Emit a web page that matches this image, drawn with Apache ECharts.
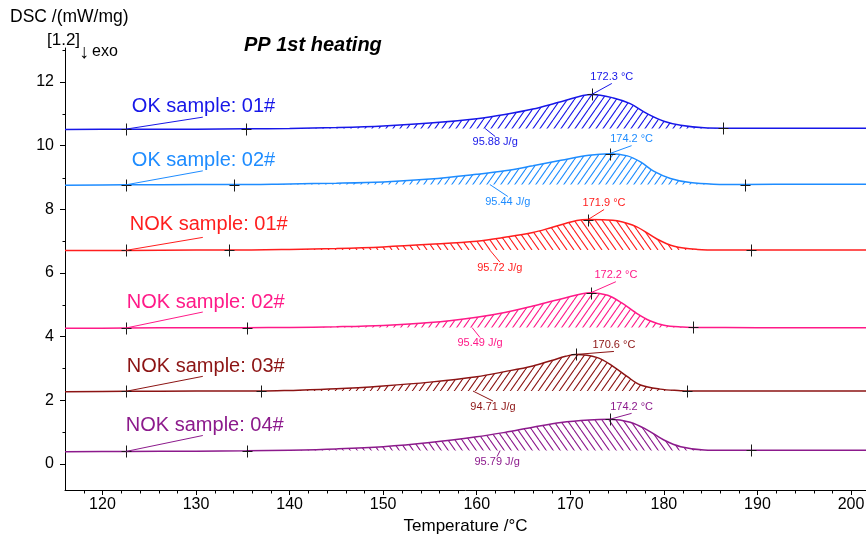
<!DOCTYPE html>
<html>
<head>
<meta charset="utf-8">
<script src="https://cdn.jsdelivr.net/npm/echarts@6/dist/echarts.min.js"></script>
<style>
  html, body { margin: 0; padding: 0; background: #ffffff; }
  #chart { width: 866px; height: 534px; }
</style>
</head>
<body>
<div id="chart"></div>
<script>
// DSC heat flow, PP first heating — [temperature °C, heat flow mW/mg] per run
const sampleNames = ['OK sample: 01#', 'OK sample: 02#', 'NOK sample: 01#', 'NOK sample: 02#', 'NOK sample: 03#', 'NOK sample: 04#'];

const ok01 = [[116,10.51],[122.5,10.52],[130,10.52],[135.3,10.53],[140,10.54],[145,10.57],[150,10.62],[155,10.71],[160,10.85],[163,10.98],[166,11.15],[169,11.38],[172.3,11.61],[174.6,11.50],[176.4,11.32],[178.2,11.01],[180,10.77],[181.8,10.64],[184.3,10.56],[186.3,10.55],[193,10.55],[201.6,10.55]];
const ok02 = [[116,8.76],[122.5,8.77],[130,8.78],[134.1,8.78],[140,8.80],[145,8.82],[150,8.86],[155,8.95],[160,9.10],[163,9.21],[166,9.37],[169,9.54],[172,9.70],[174.2,9.75],[176.1,9.68],[177.5,9.49],[178.9,9.20],[180.7,8.97],[182.8,8.84],[185.3,8.79],[188.7,8.78],[195,8.79],[201.6,8.79]];
const nok01 = [[116,6.71],[122.5,6.71],[130,6.72],[133.5,6.72],[140,6.74],[145,6.77],[150,6.82],[155,6.90],[160,7.00],[163,7.12],[166,7.27],[168,7.43],[169.3,7.54],[170.7,7.65],[171.9,7.68],[173.5,7.67],[175,7.64],[177.1,7.45],[179.3,7.06],[181.1,6.84],[183.6,6.74],[186,6.72],[189.3,6.72],[195,6.72],[201.6,6.72]];
const nok02 = [[116,4.26],[122.5,4.27],[130,4.28],[135.4,4.28],[140,4.29],[145,4.31],[150,4.35],[155,4.44],[160,4.61],[163,4.76],[166,4.96],[169,5.18],[172.2,5.38],[174,5.30],[175.5,5.06],[177,4.75],[178.5,4.50],[180,4.36],[182,4.30],[183.1,4.29],[190,4.28],[201.6,4.28]];
const nok03 = [[116,2.27],[122.5,2.28],[130,2.29],[136.9,2.29],[140,2.31],[145,2.36],[150,2.45],[155,2.57],[160,2.74],[163,2.90],[166,3.08],[168,3.25],[169.5,3.38],[170.6,3.44],[172.9,3.34],[174.6,3.06],[176.1,2.74],[177.5,2.48],[179.6,2.35],[181.8,2.30],[182.5,2.29],[190,2.29],[201.6,2.29]];
const nok04 = [[116,0.38],[122.5,0.39],[130,0.40],[135.4,0.41],[140,0.43],[145,0.47],[150,0.54],[155,0.67],[160,0.85],[163,0.99],[166,1.15],[169,1.30],[172,1.38],[174.2,1.40],[176.4,1.31],[178.2,1.07],[180,0.75],[181.8,0.54],[184.3,0.44],[186.5,0.43],[189.3,0.43],[195,0.43],[201.6,0.43]];

// evaluation points: start marker, peak integration limits, peak maxima, enthalpies
const startT = 122.5;
const onsetT = [135.3, 134.1, 133.5, 135.4, 136.9, 135.4];
const endT = [186.3, 188.7, 189.3, 183.1, 182.5, 189.3];
const peakT = [172.3, 174.2, 171.9, 172.2, 170.6, 174.2];
const enthalpy = [95.88, 95.44, 95.72, 95.49, 94.71, 95.79];
const enthalpyLabelT = [160.9, 161.4, 161.4, 159.5, 159.6, 162.5];

// axis ticks
const xMajorTicks = [120, 130, 140, 150, 160, 170, 180, 190, 200];
const xMinorTicks = [118, 122, 124, 126, 128, 132, 134, 136, 138, 142, 144, 146, 148, 152, 154, 156, 158, 162, 164, 166, 168, 172, 174, 176, 178, 182, 184, 186, 188, 192, 194, 196, 198];
const yMajorTicks = [0, 2, 4, 6, 8, 10, 12];
const yMinorTicks = [1, 3, 5, 7, 9, 11, 13];

const X_MIN = 116, X_MAX = 201.6, Y_MIN = -0.82, Y_MAX = 13.07;

const curves = [ok01, ok02, nok01, nok02, nok03, nok04];
const colors = ['#1717e8', '#1e8cff', '#ff1e1e', '#ff1a88', '#8c1414', '#8c1a8c'];
const hatchDir = [1, 1, -1, 1, 1, -1];

// label placement (pixel offsets from the anchor point)
const nameLeader = [[77, -12], [77, -14], [77, -13], [77, -16], [77, -15], [77, -16]];
const nameText = [[6, -23], [6, -24], [4, -26], [1, -26], [1, -25], [0, -26]];
const peakLeader = [[20, -11], [22, -8], [16, -10], [25, -11], [38, -3], [22, -6]];
const enthLeader = [[10, 8], [18, 12], [10, 12], [8, 10], [20, 10], [-3, 6]];

const FONT = "'Liberation Sans', Arial, Helvetica, sans-serif";

function valueAt(curve, t) {
  for (let i = 0; i < curve.length - 1; i++) {
    const a = curve[i], b = curve[i + 1];
    if (t >= a[0] && t <= b[0]) {
      return a[1] + (b[1] - a[1]) * (t - a[0]) / (b[0] - a[0]);
    }
  }
  return curve[curve.length - 1][1];
}

function hatch(color, dir) {
  const w = 7, h = 10;
  const c = document.createElement('canvas');
  c.width = w; c.height = h;
  const g = c.getContext('2d');
  g.strokeStyle = color;
  g.lineWidth = 1.1;
  g.beginPath();
  for (let k = -1; k <= 1; k++) {
    if (dir > 0) { g.moveTo(k * w, h); g.lineTo(k * w + w, 0); }
    else { g.moveTo(k * w, 0); g.lineTo(k * w + w, h); }
  }
  g.stroke();
  return c;
}

const crisp = v => Math.round(v) + 0.5;

const series = [];
curves.forEach((curve, i) => {
  const color = colors[i];
  const baseOn = valueAt(curve, onsetT[i]);
  const baseOff = valueAt(curve, endT[i]);
  const baseline = (baseOn + baseOff) / 2;

  // hatched peak area between the curve and the integration baseline
  series.push({
    type: 'line',
    data: curve.filter(p => p[0] >= onsetT[i] && p[0] <= endT[i]),
    smooth: 0.35,
    symbol: 'none',
    silent: true,
    z: 1,
    lineStyle: { width: 0, opacity: 0 },
    areaStyle: { color: { image: hatch(color, hatchDir[i]), repeat: 'repeat' }, origin: baseline, opacity: 1 }
  });

  // measured curve
  series.push({
    type: 'line',
    data: curve,
    smooth: 0.35,
    symbol: 'none',
    silent: true,
    z: 3,
    lineStyle: { color: color, width: 1.5 }
  });

  // evaluation crosses
  const marks = [startT, onsetT[i], peakT[i], endT[i]].map(t => [t, valueAt(curve, t)]);
  series.push({
    type: 'custom',
    data: marks,
    silent: true,
    z: 5,
    renderItem: (params, api) => {
      const p = api.coord([api.value(0), api.value(1)]);
      const x = crisp(p[0]), y = crisp(p[1]);
      return {
        type: 'group',
        children: [
          { type: 'line', shape: { x1: x - 5, y1: y, x2: x + 5, y2: y }, style: { stroke: '#1a1a1a', lineWidth: 1 } },
          { type: 'line', shape: { x1: x, y1: y - 6, x2: x, y2: y + 6 }, style: { stroke: '#1a1a1a', lineWidth: 1 } }
        ]
      };
    }
  });

  // labels: 0 = sample name, 1 = peak temperature, 2 = enthalpy
  const eT = enthalpyLabelT[i];
  const eV = baseOn + (baseOff - baseOn) * (eT - onsetT[i]) / (endT[i] - onsetT[i]);
  const notes = [
    [startT, valueAt(curve, startT), 0],
    [peakT[i], valueAt(curve, peakT[i]), 1],
    [eT, eV, 2]
  ];
  series.push({
    type: 'custom',
    data: notes,
    silent: true,
    z: 6,
    renderItem: (params, api) => {
      const kind = api.value(2);
      const p = api.coord([api.value(0), api.value(1)]);
      let lead, text, tx, ty, font, align, valign;
      if (kind === 0) {
        lead = nameLeader[i];
        text = sampleNames[i];
        tx = p[0] + nameText[i][0]; ty = p[1] + nameText[i][1];
        font = '20px ' + FONT; align = 'left'; valign = 'middle';
      } else if (kind === 1) {
        lead = peakLeader[i];
        text = peakT[i].toFixed(1) + ' \u00b0C';
        tx = p[0] + lead[0]; ty = p[1] + lead[1] - 1;
        font = '11px ' + FONT; align = 'center'; valign = 'bottom';
      } else {
        lead = enthLeader[i];
        text = enthalpy[i].toFixed(2) + ' J/g';
        tx = p[0] + lead[0]; ty = p[1] + lead[1];
        font = '11px ' + FONT; align = 'center'; valign = 'top';
      }
      return {
        type: 'group',
        children: [
          { type: 'line', shape: { x1: p[0], y1: p[1], x2: p[0] + lead[0], y2: p[1] + lead[1] }, style: { stroke: color, lineWidth: 1 } },
          { type: 'text', x: tx, y: ty, style: { text: text, fill: color, font: font, align: align, verticalAlign: valign, textAlign: align, textVerticalAlign: valign } }
        ]
      };
    }
  });
});

// minor tick marks on both axes (short, outside the plot)
const minorTicks = xMinorTicks.map(t => [t, Y_MIN, 0]).concat(yMinorTicks.map(v => [X_MIN, v, 1]));
series.push({
  type: 'custom',
  data: minorTicks,
  silent: true,
  clip: false,
  z: 7,
  renderItem: (params, api) => {
    const p = api.coord([api.value(0), api.value(1)]);
    const horizontal = api.value(2) === 1;
    const x = crisp(p[0]), y = crisp(p[1]);
    return {
      type: 'line',
      shape: horizontal ? { x1: x - 3, y1: y, x2: x, y2: y } : { x1: x, y1: y, x2: x, y2: y + 3 },
      style: { stroke: '#000', lineWidth: 1 }
    };
  }
});

const axisText = { color: '#000', fontSize: 16, fontFamily: FONT };

const option = {
  animation: false,
  backgroundColor: '#ffffff',
  grid: { left: 65, right: 0, top: 48, bottom: 44, containLabel: false, outerBoundsMode: 'none' },
  xAxis: {
    type: 'value', min: X_MIN, max: X_MAX, position: 'bottom',
    name: 'Temperature /\u00b0C', nameLocation: 'middle', nameGap: 23,
    nameTextStyle: { color: '#000', fontSize: 17, fontFamily: FONT },
    axisLine: { show: true, onZero: false, lineStyle: { color: '#000', width: 1 } },
    axisTick: { show: true, inside: false, length: 5, customValues: xMajorTicks, lineStyle: { color: '#000' } },
    axisLabel: { show: true, margin: 7, customValues: xMajorTicks, ...axisText },
    splitLine: { show: false }
  },
  yAxis: {
    type: 'value', min: Y_MIN, max: Y_MAX, position: 'left',
    axisLine: { show: true, onZero: false, lineStyle: { color: '#000', width: 1 } },
    axisTick: { show: true, inside: false, length: 5, customValues: yMajorTicks, lineStyle: { color: '#000' } },
    axisLabel: { show: true, margin: 11, customValues: yMajorTicks, ...axisText },
    splitLine: { show: false }
  },
  graphic: [
    { type: 'text', left: 10, top: 8, style: { text: 'DSC /(mW/mg)', fill: '#000', font: '17.5px ' + FONT } },
    { type: 'text', left: 47, top: 32, style: { text: '[1.2]', fill: '#000', font: '17px ' + FONT } },
    { type: 'text', left: 79, top: 42, style: { text: '\u2193', fill: '#000', font: '20px ' + FONT } },
    { type: 'text', left: 92, top: 44, style: { text: 'exo', fill: '#000', font: '16px ' + FONT } },
    { type: 'text', left: 244, top: 35, style: { text: 'PP 1st heating', fill: '#000', font: 'italic bold 20px ' + FONT } }
  ],
  series: series
};

const chart = echarts.init(document.getElementById('chart'), null, { renderer: 'canvas' });
chart.setOption(option);
</script>
</body>
</html>
